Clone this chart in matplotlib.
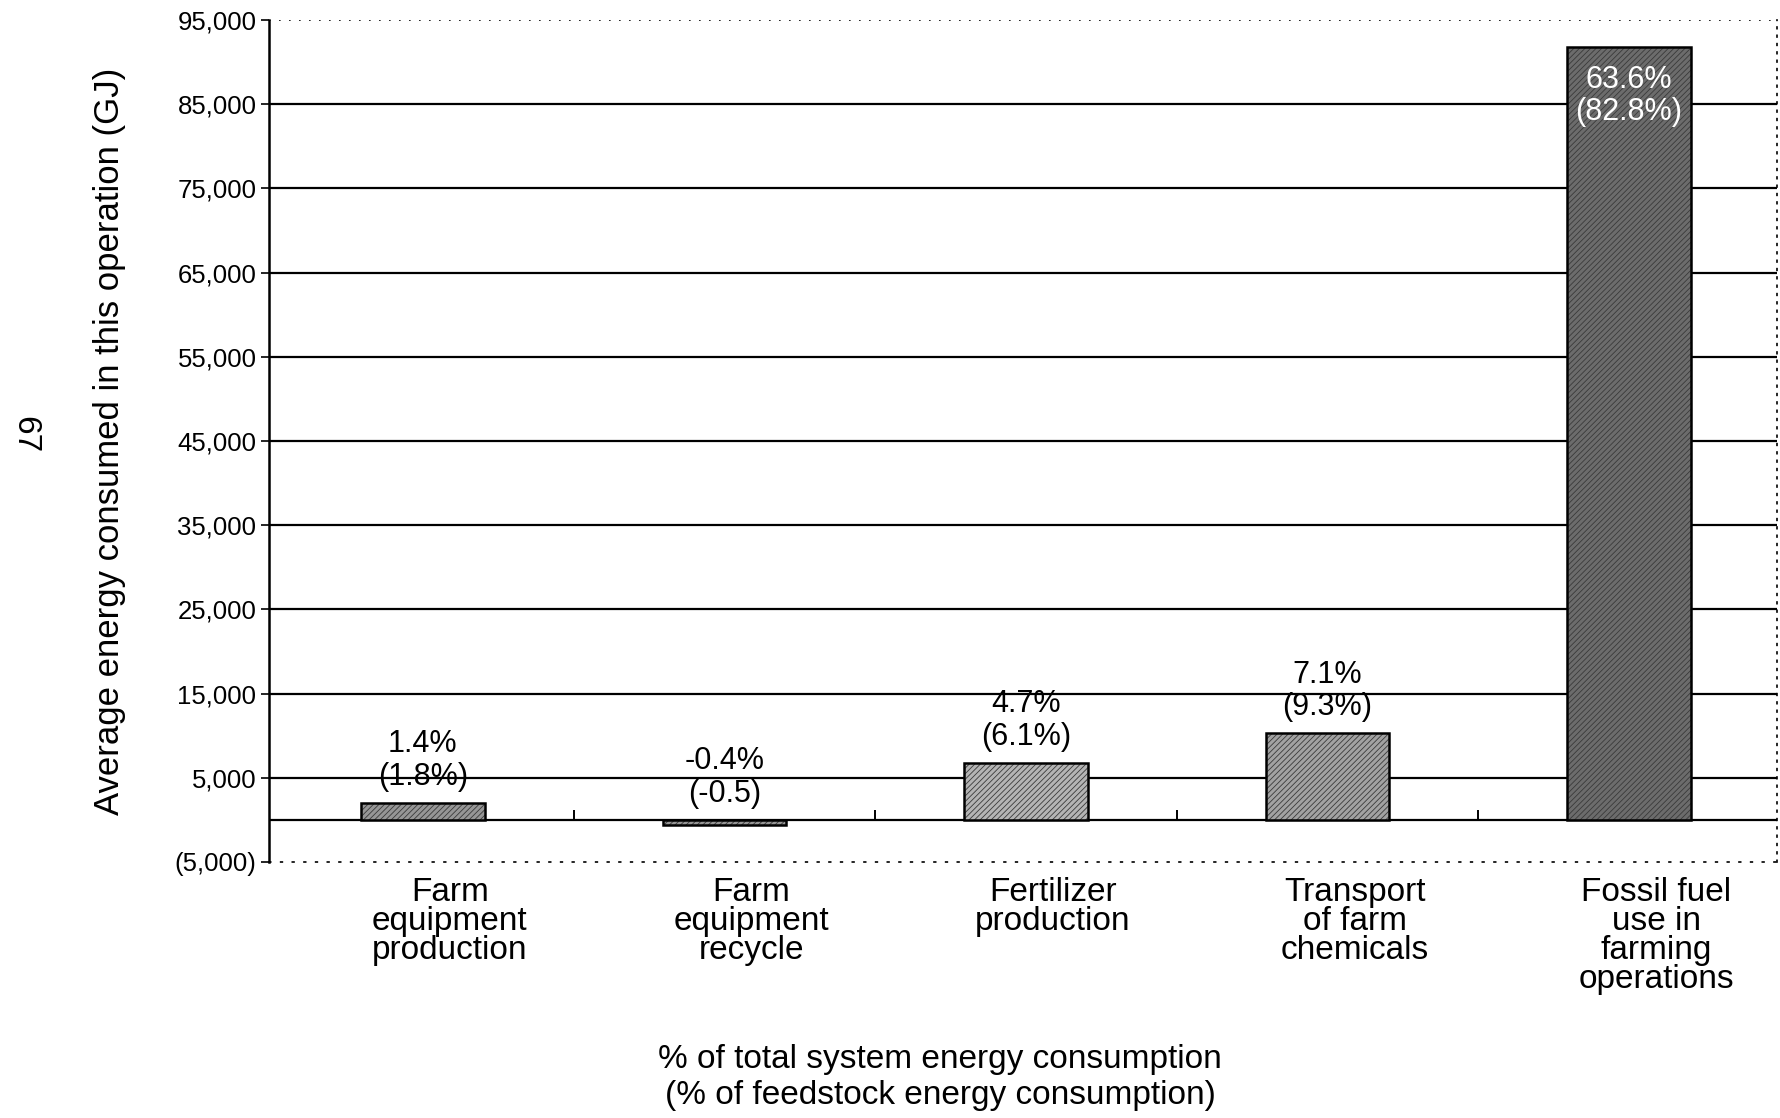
import numpy as np
import matplotlib
matplotlib.use("Agg")
import matplotlib.pyplot as plt

plt.rcParams['font.family'] = ['Liberation Sans', 'DejaVu Sans']
plt.rcParams['hatch.linewidth'] = 0.6

# data
categories = ["Farm\nequipment\nproduction", "Farm\nequipment\nrecycle",
              "Fertilizer\nproduction", "Transport\nof farm\nchemicals",
              "Fossil fuel\nuse in\nfarming\noperations"]
energy_gj = [2020, -580, 6800, 10300, 91800]
pct_total = ["1.4%", "-0.4%", "4.7%", "7.1%", "63.6%"]
pct_feedstock = ["(1.8%)", "(-0.5)", "(6.1%)", "(9.3%)", "(82.8%)"]
yticks = np.arange(-5000, 95001, 10000)

bar_colors = ["#969696", "#969696", "#b4b4b4", "#a2a2a2", "#6c6c6c"]

fig = plt.figure(figsize=(17.81, 11.18), dpi=100)
ax = fig.add_axes([0.1510, 0.2290, 0.8467, 0.7531])

x = np.arange(len(categories))
xb = x - 0.09   # bars sit a little left of their labels in the original

# grid lines behind bars
for yv in yticks[1:-1]:
    ax.axhline(yv, color="black", lw=1.6, zorder=1)
ax.axhline(0, color="black", lw=1.6, zorder=1)
ax.axhline(yticks[-1], color="black", lw=1.2, ls=(0, (1, 5)), zorder=1)

# small separators on the zero line
ax.vlines(xb[:-1] + 0.5, 0, 1200, color="black", lw=1.4, zorder=1)

# bars: textured fill + black outline
ax.bar(xb, energy_gj, width=0.41, color=bar_colors, hatch="//////",
       edgecolor="#3a3a3a", linewidth=0, zorder=2)
ax.bar(xb, energy_gj, width=0.41, fill=False, edgecolor="black",
       linewidth=1.8, zorder=3)

# labels above bars (inside for the tall one)
for i, (v, a, b) in enumerate(zip(energy_gj, pct_total, pct_feedstock)):
    if v > 50000:
        ax.annotate(a + "\n" + b, (xb[i], v), xytext=(0, -13),
                    textcoords="offset points", ha="center", va="top",
                    fontsize=22, color="white", linespacing=1.1, zorder=4)
    else:
        ax.annotate(a + "\n" + b, (xb[i], max(v, 0)), xytext=(0, 8),
                    textcoords="offset points", ha="center", va="bottom",
                    fontsize=22, color="black", linespacing=1.1, zorder=4)

ax.set_xlim(-0.6, len(categories) - 0.6)
ax.set_ylim(yticks[0], yticks[-1])
ax.set_yticks(yticks)
ax.set_yticklabels([f"({-t:,})" if t < 0 else f"{t:,}" for t in yticks])
ax.tick_params(axis="y", direction="out", length=6, width=1.2, labelsize=18.5, pad=3)

ax.set_xticks(x)
ax.set_xticklabels(categories, fontsize=24, linespacing=0.92)
ax.tick_params(axis="x", length=0, pad=11)

ax.spines["left"].set_linewidth(1.8)
ax.spines["top"].set_visible(False)
ax.spines["right"].set_linestyle((0, (1, 4)))
ax.spines["right"].set_linewidth(1.2)
ax.spines["bottom"].set_linestyle((0, (1, 6)))
ax.spines["bottom"].set_linewidth(1.2)

ax.text(-0.1054, 0.5, "Average energy consumed in this operation (GJ)",
        transform=ax.transAxes, rotation=90, ha="center", va="center",
        fontsize=25)

fig.text(940 / 1781, 0.036,
         "% of total system energy consumption\n(% of feedstock energy consumption)",
         ha="center", va="center", fontsize=24, linespacing=1.2)

# page number from the scan
fig.text(25 / 1781, 1 - 435 / 1118, "67", rotation=-90, ha="center",
         va="center", fontsize=24)

fig.savefig("out.png", dpi=100)
